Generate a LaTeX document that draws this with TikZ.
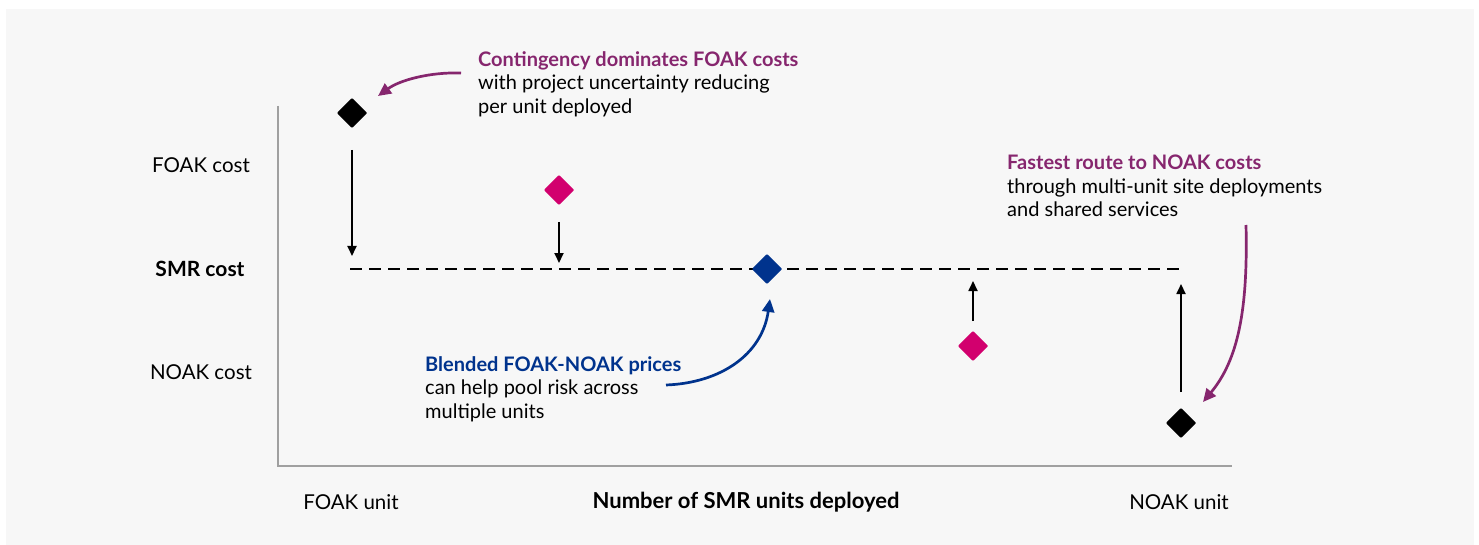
\documentclass[tikz,border=0pt]{standalone}
\usepackage{fontspec}
\setmainfont{Lato}
\usetikzlibrary{arrows.meta}
\definecolor{panel}{HTML}{F7F7F7}
\definecolor{axisgrey}{HTML}{A0A0A0}
\definecolor{plum}{HTML}{86266E}
\definecolor{rose}{HTML}{D2006E}
\definecolor{navy}{HTML}{00338D}
\tikzset{
  x=1pt, y=-1pt,
  lbl/.style={font=\fontsize{20.5}{24}\selectfont, text=black, inner sep=0pt},
  lblb/.style={lbl, font=\fontsize{21}{24}\selectfont\bfseries},
  note/.style={font=\fontsize{20}{23.3}\selectfont, align=left, anchor=north west, inner sep=0pt, text=black},
  gem/.style={fill=#1, minimum size=21.5pt, inner sep=0pt, rotate=45, rounded corners=1pt},
  costshift/.style={-{Triangle[length=10pt,width=9pt]}, line width=1.8pt, black},
  callout/.style={-{Triangle[length=13pt,width=12pt]}, line width=2.7pt, #1},
  smrline/.style={dash pattern=on 12pt off 7pt, line width=2.4pt, black},
}
\begin{document}
\begin{tikzpicture}
\useasboundingbox (0,0) rectangle (1479,545);
\fill[panel] (6,9) rectangle (1474,545);

% axes
\coordinate (ytop) at (278,106);
\coordinate (orig) at (278,466);
\coordinate (xend) at (1232,466);
\draw[axisgrey, line width=2.2pt] (ytop) -- (orig) -- (xend);

% axis labels
\node[lbl] (yfoak) at (201,165) {FOAK cost};
\node[lblb] (ysmr) at (200,269) {SMR cost};
\node[lbl] (ynoak) at (201,372) {NOAK cost};
\node[lbl] (xfoak) at (351,502) {FOAK unit};
\node[lblb, font=\fontsize{22}{24}\selectfont\bfseries] (xtitle) at (746,502) {Number of SMR units deployed};
\node[lbl] (xnoak) at (1179,502) {NOAK unit};

% target SMR cost line
\coordinate (smrL) at (350,269);
\coordinate (smrR) at (1185,269);
\draw[smrline] (smrL) -- (smrR);

% unit cost markers
\node[gem=black] (d1) at (352,113) {};
\node[gem=rose] (d2) at (559,190) {};
\node[gem=navy] (d3) at (767,269) {};
\node[gem=rose] (d4) at (973,346) {};
\node[gem=black] (d5) at (1181,423) {};

% movement towards the SMR cost
\coordinate (a1s) at (352,150); \coordinate (a1e) at (352,256);
\coordinate (a2s) at (559,222); \coordinate (a2e) at (559,263);
\coordinate (a4s) at (973,321); \coordinate (a4e) at (973,281);
\coordinate (a5s) at (1181,392); \coordinate (a5e) at (1181,284);
\draw[costshift] (a1s) -- (a1e);
\draw[costshift] (a2s) -- (a2e);
\draw[costshift] (a4s) -- (a4e);
\draw[costshift] (a5s) -- (a5e);

% notes
\node[note] (n1) at (478,51.5) {\textbf{\textcolor{plum}{Contingency dominates FOAK costs}}\\with project uncertainty reducing\\per unit deployed};
\node[note] (n2) at (425,356.5) {\textbf{\textcolor{navy}{Blended FOAK-NOAK prices}}\\can help pool risk across\\multiple units};
\node[note] (n3) at (1007,155) {\textbf{\textcolor{plum}{Fastest route to NOAK costs}}\\through multi-unit site deployments\\and shared services};

% callout arrows
\coordinate (c1s) at (461,73); \coordinate (c1e) at (378,96);
\draw[callout=plum] (c1s) .. controls (430,72) and (400,80) .. (c1e);
\coordinate (c2s) at (666,385); \coordinate (c2e) at (770,299);
\draw[callout=navy] (c2s) .. controls (720,383) and (762,355) .. (c2e);
\coordinate (c3s) at (1246,225); \coordinate (c3e) at (1203,402);
\draw[callout=plum] (c3s) .. controls (1248,310) and (1238,360) .. (c3e);
\end{tikzpicture}
\end{document}
